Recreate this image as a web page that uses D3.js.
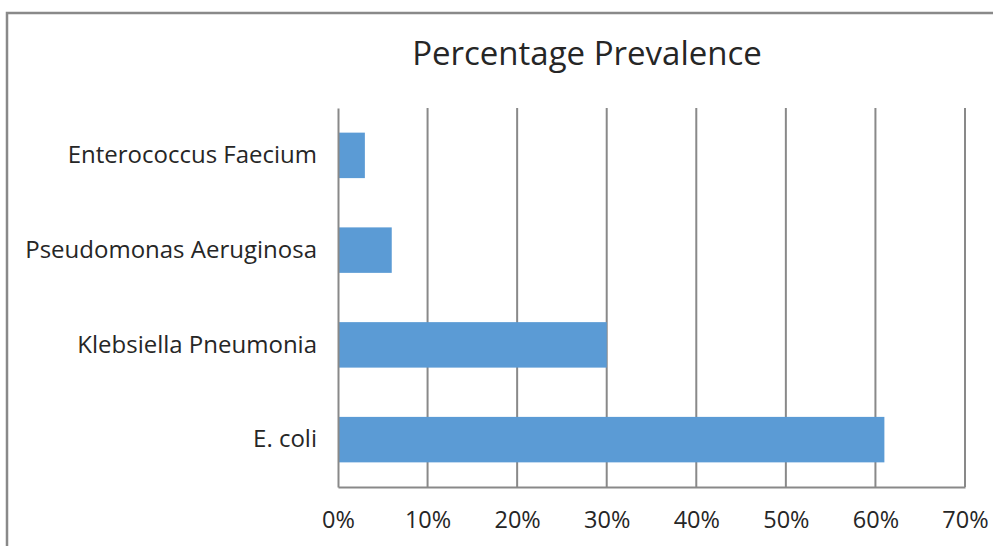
<!DOCTYPE html>
<html>
<head>
<meta charset="utf-8">
<script src="https://cdn.jsdelivr.net/npm/d3@7"></script>
<style>
  html, body { margin: 0; padding: 0; background: #fff; }
  svg { display: block; }
  text { font-family: "Open Sans", Lato, sans-serif; fill: #262626; }
</style>
</head>
<body>
<svg id="chart" width="993" height="546"></svg>
<script>
// Organisms, listed top to bottom
const categories = ["Enterococcus Faecium", "Pseudomonas Aeruginosa", "Klebsiella Pneumonia", "E. coli"];
// Percentage prevalence of each organism (fraction of isolates)
const prevalence = [0.03, 0.06, 0.30, 0.61];
// Value-axis ticks
const tickValues = [0, 0.1, 0.2, 0.3, 0.4, 0.5, 0.6, 0.7];
const title = "Percentage Prevalence";

const svg = d3.select("#chart");
const W = 993, H = 546;
const plot = { left: 338, right: 965, top: 108, bottom: 487 };
const gray = "#898989";
const font = "'Open Sans', Lato, sans-serif";

// Outer chart frame (only the top and left edges fall inside the view)
svg.append("path")
  .attr("d", `M7,${H} L7,13 L${W},13`)
  .attr("fill", "none")
  .attr("stroke", gray)
  .attr("stroke-width", 2.5);

const x = d3.scaleLinear().domain([0, 0.7]).range([plot.left, plot.right]);
const y = d3.scaleBand().domain(categories).range([plot.top, plot.bottom])
  .paddingInner(0.52).paddingOuter(0.26);

// Vertical gridlines
svg.append("g").selectAll("line")
  .data(tickValues.slice(1))
  .join("line")
  .attr("x1", d => x(d)).attr("x2", d => x(d))
  .attr("y1", plot.top).attr("y2", plot.bottom)
  .attr("stroke", gray).attr("stroke-width", 2);

// Bars
svg.append("g").selectAll("rect")
  .data(categories.map((c, i) => ({ c, v: prevalence[i] })))
  .join("rect")
  .attr("x", x(0))
  .attr("y", d => y(d.c))
  .attr("width", d => x(d.v) - x(0))
  .attr("height", y.bandwidth())
  .attr("fill", "#5b9bd5");

// Bottom value axis
const xAxis = svg.append("g")
  .attr("transform", `translate(0,${plot.bottom})`)
  .call(d3.axisBottom(x).tickValues(tickValues).tickFormat(d3.format(".0%")).tickSize(0));
xAxis.select(".domain").attr("stroke", gray).attr("stroke-width", 2);
xAxis.selectAll("text")
  .attr("y", 41).attr("dy", 0)
  .attr("font-size", 23.5).attr("fill", "#333")
  .style("font-family", font);

// Left category axis
const yAxis = svg.append("g")
  .attr("transform", `translate(${plot.left},0)`)
  .call(d3.axisLeft(y).tickSize(0).tickPadding(21));
yAxis.select(".domain").attr("stroke", gray).attr("stroke-width", 2);
yAxis.selectAll("text").attr("font-size", 24).attr("fill", "#1f1f1f")
  .style("font-family", font);

// Title
svg.append("text")
  .attr("x", 587).attr("y", 65)
  .attr("text-anchor", "middle")
  .attr("font-size", 33)
  .attr("fill", "#1a1a1a")
  .style("font-family", font)
  .text(title);
</script>
</body>
</html>
